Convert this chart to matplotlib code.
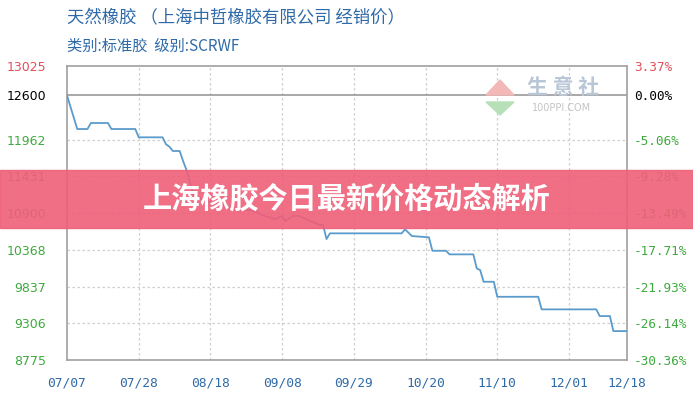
import matplotlib
matplotlib.use('Agg')
import matplotlib.pyplot as plt
import matplotlib.patches as mpatches
import pandas as pd

# 价格数据 (读自原图, 年份为假定)
datas = ['07-07', '07-10', '07-13', '07-14', '07-19', '07-20', '07-27', '07-28',
         '08-04', '08-05', '08-06', '08-07', '08-09', '08-10', '08-11', '08-12',
         '08-13', '08-16', '08-21', '08-25', '08-31', '09-02', '09-06', '09-08',
         '09-09', '09-11', '09-13', '09-15', '09-19', '09-20', '09-21', '09-22',
         '10-13', '10-14', '10-16', '10-21', '10-22', '10-26', '10-27', '11-03',
         '11-04', '11-05', '11-06', '11-09', '11-10', '11-22', '11-23', '12-09',
         '12-10', '12-13', '12-14', '12-18']
precos = [12600, 12114, 12114, 12201, 12201, 12114, 12114, 11994,
          11994, 11893, 11858, 11796, 11796, 11651, 11521, 11348,
          11160, 11087, 11015, 10972, 10928, 10870, 10813, 10856,
          10784, 10856, 10856, 10813, 10726, 10726, 10523, 10606,
          10606, 10664, 10567, 10548, 10354, 10354, 10302, 10302,
          10100, 10075, 9906, 9906, 9689, 9689, 9507, 9507,
          9410, 9410, 9193, 9193]

base = 12600
y_ticks = [13025, 12600, 11962, 11431, 10900, 10368, 9837, 9306, 8775]
x_ticks = ['07-07', '07-28', '08-18', '09-08', '09-29', '10-20', '11-10', '12-01', '12-18']

titulo = '天然橡胶 （上海中哲橡胶有限公司 经销价）'
subtitulo = '类别:标准胶  级别:SCRWF'
faixa = '上海橡胶今日最新价格动态解析'

cjk = ['Noto Sans CJK SC', 'DejaVu Sans']
azul = '#2f6aa8'
verde = '#3faa3f'
vermelho = '#e0505a'

def cor_tick(v):
    if v > base:
        return vermelho
    if v == base:
        return 'black'
    return verde

x = pd.to_datetime(['2023-' + d for d in datas])
xt = pd.to_datetime(['2023-' + d for d in x_ticks])

fig = plt.figure(figsize=(6.93, 4.0), dpi=100)
ax = fig.add_axes([67 / 693, 40 / 400, 560 / 693, 294 / 400])

ax.plot(x, precos, color='#5b9bcb', linewidth=1.3, zorder=3)

ax.set_ylim(8775, 13025)
ax.set_xlim(xt[0], xt[-1])
ax.set_yticks(y_ticks)
ax.set_yticklabels([str(v) for v in y_ticks], family='DejaVu Sans', fontsize=9)
for lbl, v in zip(ax.get_yticklabels(), y_ticks):
    lbl.set_color(cor_tick(v))
ax.set_xticks(xt)
ax.set_xticklabels([d.replace('-', '/') for d in x_ticks], family='DejaVu Sans Mono',
                   fontsize=9.3, color=azul)
ax.tick_params(axis='y', length=0, pad=15)
ax.tick_params(axis='x', length=0, pad=12)

# grade
for v in y_ticks[1:-1]:
    if v == base:
        ax.axhline(v, color='#9a9a9a', linewidth=1.2, zorder=2)
    else:
        ax.axhline(v, color='#cfcfcf', linewidth=0.9, linestyle=(0, (2, 2)), zorder=1)
for d in xt[1:-1]:
    ax.axvline(d, color='#cfcfcf', linewidth=0.9, linestyle=(0, (2, 2)), zorder=1)
for s in ax.spines.values():
    s.set_color('#a0a0a0')
    s.set_linewidth(1.2)

# eixo direito em percentagem
ax2 = ax.twinx()
ax2.set_ylim(ax.get_ylim())
ax2.set_yticks(y_ticks)
ax2.set_yticklabels([f'{(v - base) / base * 100:.2f}%' for v in y_ticks],
                    family='DejaVu Sans Mono', fontsize=9.2)
for lbl, v in zip(ax2.get_yticklabels(), y_ticks):
    lbl.set_color(cor_tick(v))
ax2.tick_params(axis='y', length=0, pad=5)
for s in ax2.spines.values():
    s.set_visible(False)

# titulos
fig.text(67 / 693, 1 - 18 / 400, titulo, family=cjk, fontsize=12.5, color=azul, va='center')
fig.text(67 / 693, 1 - 46 / 400, subtitulo, family=cjk, fontsize=11, color=azul, va='center')

# marca d'agua
fig.text(563 / 693, 1 - 88 / 400, '生 意 社', family=cjk, fontsize=15, color='#b9c6d6',
         ha='center', va='center', fontweight='bold')
fig.text(562 / 693, 1 - 108 / 400, '100PPI.COM', family='DejaVu Sans', fontsize=7,
         color='#c4c4c4', ha='center', va='center')
fig.patches.append(mpatches.Polygon([[486 / 693, 1 - 95 / 400], [500 / 693, 1 - 80 / 400],
                                     [514 / 693, 1 - 95 / 400]], closed=True,
                                    transform=fig.transFigure, color='#f2b8b8'))
fig.patches.append(mpatches.Polygon([[486 / 693, 1 - 102 / 400], [500 / 693, 1 - 115 / 400],
                                     [514 / 693, 1 - 102 / 400]], closed=True,
                                    transform=fig.transFigure, color='#b8e0b8'))

# faixa
fig.patches.append(mpatches.Rectangle((0, 1 - 228 / 400), 1, 58 / 400, transform=fig.transFigure,
                                      color='#ef5f78', alpha=0.9, zorder=10))
fig.text(0.5, 1 - 199 / 400, faixa, family=cjk, fontsize=21, fontweight='bold',
         color='white', ha='center', va='center', zorder=11)

fig.savefig('out.png', dpi=100)
plt.close()
